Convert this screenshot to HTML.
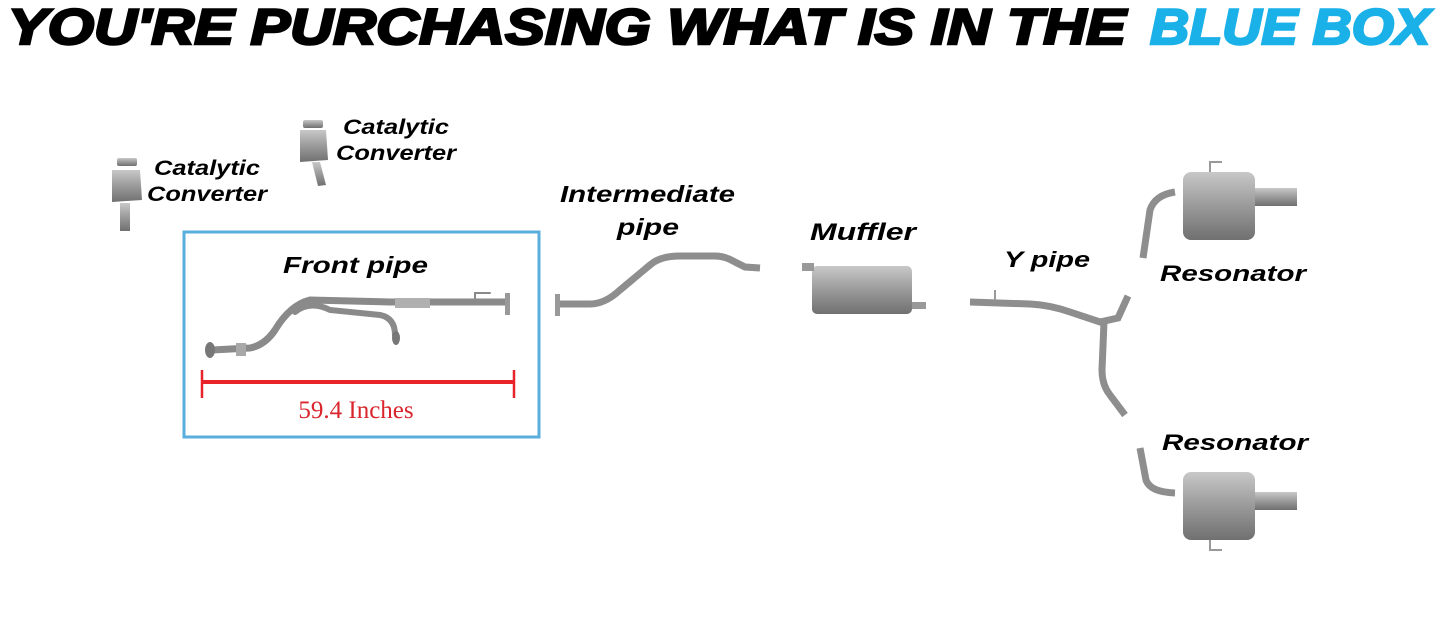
<!DOCTYPE html>
<html><head><meta charset="utf-8"><style>
html,body{margin:0;padding:0;background:#fff;}
svg{display:block;}
.t{font-family:"Liberation Sans",sans-serif;font-weight:bold;font-style:italic;}
</style></head><body>
<svg width="1445" height="619" viewBox="0 0 1445 619" xmlns="http://www.w3.org/2000/svg">
<defs>
<linearGradient id="g" x1="0" y1="0" x2="0" y2="1"><stop offset="0" stop-color="#c8c8c8"/><stop offset="0.5" stop-color="#9a9a9a"/><stop offset="1" stop-color="#707070"/></linearGradient>
</defs>
<text x="8" y="44" class="t" font-size="50" fill="#000" stroke="#000" stroke-width="2.5" textLength="1118" lengthAdjust="spacingAndGlyphs">YOU'RE PURCHASING WHAT IS IN THE</text>
<text x="1150" y="44" class="t" font-size="50" fill="#1ab0e8" stroke="#1ab0e8" stroke-width="2.5" textLength="280" lengthAdjust="spacingAndGlyphs">BLUE BOX</text>

<rect x="184" y="232" width="355" height="205" fill="none" stroke="#5aaedb" stroke-width="3"/>
<text x="283" y="273" class="t" font-size="23" textLength="145" lengthAdjust="spacingAndGlyphs">Front pipe</text>
<g fill="none" stroke="#8a8a8a" stroke-linecap="round">
<path d="M212 350 L250 348 Q265 345 275 330 Q290 305 310 300 L390 302 L470 302 L505 302" stroke-width="7"/>
<path d="M295 312 Q310 300 330 310 L380 315 Q395 318 395 335" stroke-width="6"/>
<path d="M475 300 L475 293 L490 293" stroke-width="2"/>
<rect x="395" y="298" width="35" height="10" fill="#b0b0b0" stroke="none"/>
<rect x="236" y="343" width="10" height="13" fill="#a8a8a8" stroke="none"/>
<rect x="505" y="293" width="5" height="22" fill="#999" stroke="none"/>
<ellipse cx="210" cy="350" rx="5" ry="8" fill="#777" stroke="none"/>
<ellipse cx="396" cy="338" rx="4" ry="7" fill="#777" stroke="none"/>
</g>
<line x1="202" y1="382" x2="514" y2="382" stroke="#e8232a" stroke-width="4"/>
<line x1="202" y1="370" x2="202" y2="398" stroke="#e8232a" stroke-width="2.5"/>
<line x1="514" y1="370" x2="514" y2="398" stroke="#e8232a" stroke-width="2.5"/>
<text x="356" y="418" text-anchor="middle" font-family="Liberation Serif,serif" font-size="25" fill="#d8262c">59.4 Inches</text>

<text x="154" y="175" class="t" font-size="21" textLength="106" lengthAdjust="spacingAndGlyphs">Catalytic</text>
<text x="147" y="201" class="t" font-size="21" textLength="120" lengthAdjust="spacingAndGlyphs">Converter</text>
<text x="343" y="134" class="t" font-size="21" textLength="106" lengthAdjust="spacingAndGlyphs">Catalytic</text>
<text x="336" y="160" class="t" font-size="21" textLength="120" lengthAdjust="spacingAndGlyphs">Converter</text>
<g fill="url(#g)">
<rect x="117" y="158" width="20" height="8" rx="2"/>
<path d="M112 170 L140 170 L142 200 L112 202 Z"/>
<rect x="120" y="203" width="10" height="28"/>
<rect x="303" y="120" width="20" height="8" rx="2"/>
<path d="M300 130 L326 130 L328 160 L300 162 Z"/>
<path d="M312 162 L320 162 L326 185 L318 186 Z"/>
</g>

<text x="560" y="202" class="t" font-size="23" textLength="175" lengthAdjust="spacingAndGlyphs">Intermediate</text>
<text x="617" y="235" class="t" font-size="23" textLength="62" lengthAdjust="spacingAndGlyphs">pipe</text>
<path d="M560 304 L590 304 Q605 304 620 290 L650 265 Q660 256 680 256 L715 256 Q725 256 735 262 L745 267 L760 268" fill="none" stroke="#8e8e8e" stroke-width="7"/>
<rect x="555" y="294" width="5" height="22" fill="#999"/>

<text x="810" y="240" class="t" font-size="24" textLength="106" lengthAdjust="spacingAndGlyphs">Muffler</text>
<rect x="812" y="266" width="100" height="48" rx="5" fill="url(#g)"/>
<rect x="802" y="263" width="12" height="8" fill="#999"/>
<rect x="912" y="302" width="14" height="7" fill="#999"/>

<text x="1004" y="267" class="t" font-size="22" textLength="86" lengthAdjust="spacingAndGlyphs">Y pipe</text>
<g fill="none" stroke="#8e8e8e" stroke-width="7">
<path d="M970 302 L1030 304 Q1050 305 1070 312 L1100 322 L1118 318 L1128 296"/>
<path d="M1104 322 L1102 370 Q1102 385 1110 395 L1125 415"/>
</g>
<path d="M995 290 L995 300" stroke="#999" stroke-width="2"/>

<text x="1160" y="281" class="t" font-size="22" textLength="146" lengthAdjust="spacingAndGlyphs">Resonator</text>
<text x="1162" y="450" class="t" font-size="22" textLength="146" lengthAdjust="spacingAndGlyphs">Resonator</text>
<path d="M1143 258 L1150 210 Q1155 195 1175 192" fill="none" stroke="#8e8e8e" stroke-width="7"/>
<rect x="1183" y="172" width="72" height="68" rx="8" fill="url(#g)"/>
<rect x="1255" y="188" width="42" height="18" fill="url(#g)"/>
<path d="M1210 172 L1210 162 L1222 162" fill="none" stroke="#999" stroke-width="2"/>
<path d="M1140 448 L1146 480 Q1150 492 1175 493" fill="none" stroke="#8e8e8e" stroke-width="7"/>
<rect x="1183" y="472" width="72" height="68" rx="8" fill="url(#g)"/>
<rect x="1255" y="492" width="42" height="18" fill="url(#g)"/>
<path d="M1210 540 L1210 550 L1222 550" fill="none" stroke="#999" stroke-width="2"/>
</svg>
</body></html>
